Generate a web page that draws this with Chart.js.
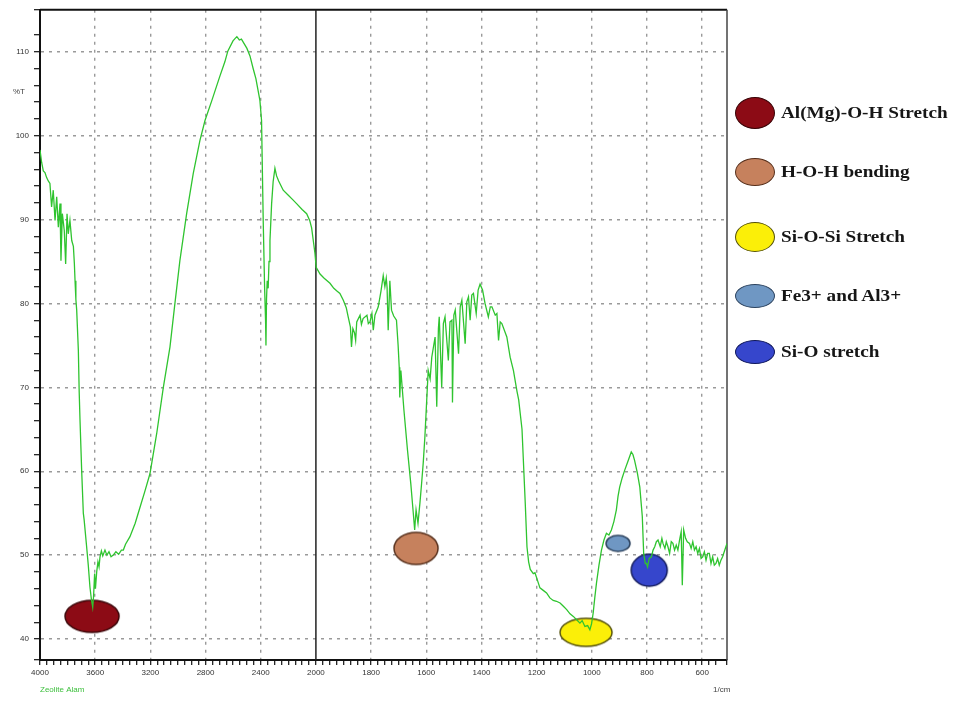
<!DOCTYPE html>
<html>
<head>
<meta charset="utf-8">
<title>FTIR Zeolite Alam</title>
<script src="https://cdn.jsdelivr.net/npm/chart.js@4.4.1/dist/chart.umd.min.js"></script>
<style>
  body { margin: 0; background: #fff; }
  #wrap { position: relative; width: 955px; height: 702px; }
  #legend { position: absolute; left: 0; top: 0; font-family: 'Liberation Serif', 'Times New Roman', serif; font-weight: bold; font-size: 17px; color: #161616; }
  .item { position: absolute; display: flex; align-items: center; white-space: nowrap; transform: translateY(-50%); }
  .dot { display: inline-block; border-radius: 50%; box-sizing: border-box; border: 1.5px solid; }
  .txt { display: inline-block; transform: scaleX(1.13); transform-origin: left center; margin-left: 6px; }
</style>
</head>
<body>
<div id="wrap">
  <canvas id="ftir"></canvas>
  <div id="legend"></div>
</div>
<script>
// spectrum, wavenumber (1/cm) and %T
const wnHigh = [4000, 3988, 3976, 3964, 3952, 3940, 3928, 3916, 3904, 3891,
  3879, 3867, 3855, 3848, 3838, 3824, 3814, 3804, 3795, 3783,
  3770, 3758, 3751, 3746, 3740, 3734, 3722, 3716, 3710, 3698,
  3686, 3680, 3662, 3650, 3638, 3628, 3618, 3612, 3604, 3598,
  3589, 3580, 3572, 3565, 3555, 3545, 3529, 3515, 3500, 3485,
  3469, 3450, 3430, 3410, 3396, 3380, 3348, 3310, 3275, 3240,
  3203, 3154, 3106, 3058, 3022, 2986, 2937, 2889, 2841, 2804,
  2754, 2696, 2660, 2638, 2601, 2585, 2573, 2555, 2540, 2529,
  2500, 2478, 2455, 2435, 2406, 2394, 2382, 2372, 2365, 2362,
  2358, 2353, 2346, 2340, 2333, 2321, 2310, 2297, 2285, 2270,
  2237, 2200, 2170, 2140, 2100, 2067, 2045, 2031, 2015, 2007];
const tHigh = [98.3, 96.8, 95.8, 95.6, 95.0, 94.6, 94.3, 91.5, 93.5, 89.9,
  92.7, 89.1, 91.9, 85.1, 90.7, 88.7, 84.7, 90.7, 88.3, 89.9,
  87.5, 86.8, 84.8, 82.7, 80.5, 79.2, 74.4, 69.5, 66.1, 60.1,
  55.0, 54.2, 51.0, 48.8, 46.2, 44.8, 43.8, 45.0, 47.8, 46.0,
  48.0, 49.2, 48.6, 49.8, 50.5, 49.9, 50.6, 50.0, 50.4, 49.8,
  50.0, 50.4, 50.1, 50.6, 50.6, 51.3, 52.2, 53.8, 55.7, 57.6,
  59.7, 64.5, 70.0, 74.8, 80.0, 85.1, 90.7, 95.5, 99.4, 101.8,
  104.2, 107.1, 108.8, 110.1, 111.3, 111.6, 111.8, 111.4, 111.5, 111.2,
  110.4, 109.5, 108.0, 106.8, 104.2, 101.8, 89.9, 82.0, 78.0, 75.0,
  80.5, 82.7, 81.8, 85.0, 87.5, 91.9, 94.5, 96.1, 95.2, 94.6,
  93.5, 92.9, 92.4, 91.9, 91.2, 90.7, 89.9, 89.0, 87.0, 86.0];

const wnMid = [1999, 1985, 1970, 1949, 1935, 1925, 1913, 1901, 1890, 1883,
  1875, 1871, 1866, 1860, 1856, 1852, 1840, 1835, 1829, 1815,
  1810, 1804, 1797, 1792, 1786, 1774, 1764, 1756, 1750, 1745,
  1742, 1738, 1732, 1726, 1718, 1708, 1702, 1698, 1696, 1692,
  1681, 1668, 1656, 1647, 1642, 1637, 1630, 1623, 1617, 1611,
  1605, 1593, 1586, 1580, 1568, 1562, 1556, 1553, 1544, 1538,
  1532, 1520, 1514, 1507, 1505, 1500, 1495, 1483, 1477, 1471,
  1459, 1453, 1447, 1441, 1435, 1429, 1419, 1412, 1405, 1396,
  1387, 1375, 1368, 1362, 1350, 1344, 1338, 1332, 1326, 1308,
  1296, 1284, 1271, 1265, 1253, 1247, 1241, 1235, 1229, 1223,
  1212, 1206];
const tMid = [84.3, 83.5, 83.0, 82.4, 81.8, 81.5, 81.2, 80.4, 79.5, 78.4,
  77.2, 74.8, 77.0, 76.5, 75.6, 77.8, 78.6, 77.5, 78.2, 78.6,
  77.6, 77.8, 78.8, 76.8, 78.6, 79.6, 81.5, 83.3, 82.0, 83.0,
  81.9, 76.8, 82.7, 79.2, 78.5, 78.0, 75.0, 72.4, 68.8, 72.0,
  67.3, 62.5, 58.5, 55.0, 53.0, 55.4, 53.8, 56.2, 58.5, 61.0,
  64.1, 72.0, 71.0, 73.6, 76.0, 67.7, 77.0, 78.4, 70.0, 77.6,
  78.4, 73.2, 77.8, 78.0, 68.2, 78.6, 79.2, 74.0, 79.6, 80.4,
  75.2, 80.2, 80.8, 78.0, 81.0, 81.2, 78.8, 81.6, 82.3, 81.6,
  80.0, 78.4, 79.6, 79.6, 78.6, 78.8, 75.6, 77.8, 77.6, 76.0,
  73.6, 72.0, 69.5, 68.5, 65.0, 60.5, 56.0, 51.0, 49.2, 48.3,
  47.8, 47.9];

const wnLow = [1199, 1188, 1176, 1164, 1152, 1140, 1128, 1115, 1103, 1091,
  1079, 1067, 1055, 1043, 1035, 1025, 1015, 1007, 1001, 995,
  989, 983, 974, 965, 956, 947, 938, 929, 920, 911,
  905, 899, 890, 881, 869, 857, 851, 845, 835, 826,
  817, 812, 806, 802, 798, 792, 784, 778, 772, 766,
  760, 752, 746, 742, 735, 730, 724, 718, 712, 706,
  700, 694, 688, 682, 676, 672, 667, 660, 654, 646,
  640, 634, 628, 622, 616, 610, 604, 598, 592, 586,
  580, 574, 568, 562, 556, 550, 544, 538, 532, 526,
  520, 514, 510];
const tLow = [47.2, 46.1, 45.8, 45.5, 44.9, 44.6, 44.5, 44.3, 43.9, 43.5,
  43.0, 42.7, 42.3, 41.9, 42.2, 41.5, 41.6, 41.1, 41.8, 43.1,
  45.0, 46.7, 48.8, 50.6, 51.8, 52.6, 52.4, 53.0, 54.0, 55.4,
  57.0, 58.1, 59.2, 60.1, 61.2, 62.3, 62.0, 61.3, 59.8, 58.1,
  54.6, 50.2, 49.0, 49.0, 48.6, 49.6, 49.8, 50.6, 51.0, 51.6,
  51.8, 51.0, 52.0, 51.4, 50.8, 51.6, 51.0, 50.2, 51.6, 51.4,
  50.6, 51.2, 50.6, 51.8, 52.8, 46.4, 53.0, 52.0, 51.6, 51.4,
  50.8, 51.6, 50.6, 51.0, 50.2, 50.8, 49.6, 49.8, 50.4, 49.4,
  50.2, 50.2, 49.0, 49.8, 48.8, 49.0, 49.6, 48.8, 49.4, 49.8,
  50.4, 51.0, 51.4];

// marked bands
const peakLabels = ['Al(Mg)-O-H Stretch', 'H-O-H bending', 'Si-O-Si Stretch', 'Fe3+ and Al3+', 'Si-O stretch'];
const peakWn = [3623, 1637, 1021, 905, 792];
const peakT = [42.7, 50.8, 40.8, 51.4, 48.2];

const xTickLabels = [4000, 3600, 3200, 2800, 2400, 2000, 1800, 1600, 1400, 1200, 1000, 800, 600];
const yTickLabels = [40, 50, 60, 70, 80, 90, 100, 110];

// styles
const peakFill = ['#8c0b15', '#c6815d', '#fbef08', '#6f97c3', '#3646cc'];
const peakEdge = ['#3a0508', '#57301c', '#55520c', '#2f4560', '#121a5c'];
const plotSize = [[54, 32], [44, 32], [52, 28], [24, 16], [36, 32]];
const legendSize = [[40, 32], [40, 28], [40, 30], [40, 24], [40, 24]];
const legendY = [113, 172, 237, 296, 352];

const breakAt = 2000; // scale doubles below 2000 1/cm
let chart;

function toAxis(w) {
  return w > breakAt ? breakAt + (w - breakAt) / 2 : w;
}

function toWn(u) {
  return u > breakAt ? breakAt + (u - breakAt) * 2 : u;
}

function makeEllipse(w, h, fill, edge) {
  const c = document.createElement('canvas');
  c.width = w + 4;
  c.height = h + 4;
  const g = c.getContext('2d');
  g.beginPath();
  g.ellipse(c.width / 2, c.height / 2, w / 2, h / 2, 0, 0, Math.PI * 2);
  g.fillStyle = fill;
  g.fill();
  g.lineWidth = 1.5;
  g.strokeStyle = edge;
  g.stroke();
  return c;
}

function buildSpectrum() {
  const wn = wnHigh.concat(wnMid, wnLow);
  const t = tHigh.concat(tMid, tLow);
  return wn.map((w, i) => ({ x: toAxis(w), y: t[i] }));
}

function renderLegend() {
  const box = document.getElementById('legend');
  box.innerHTML = '';
  peakLabels.forEach((label, i) => {
    const item = document.createElement('div');
    item.className = 'item';
    item.style.left = '735px';
    item.style.top = legendY[i] + 'px';
    item.innerHTML = `
      <span class="dot" style="width:${legendSize[i][0]}px;height:${legendSize[i][1]}px;background:${peakFill[i]};border-color:${peakEdge[i]}"></span>
      <span class="txt">${label}</span>`;
    box.appendChild(item);
  });
}

const frame = {
  id: 'frame',
  beforeDatasetsDraw(c) {
    const { ctx, chartArea: a, scales: { x } } = c;
    ctx.save();
    ctx.strokeStyle = '#111';
    ctx.lineWidth = 2;
    ctx.beginPath();
    ctx.moveTo(a.left, a.top);
    ctx.lineTo(a.right, a.top);
    ctx.stroke();
    ctx.strokeStyle = '#444';
    ctx.lineWidth = 1.5;
    ctx.beginPath();
    ctx.moveTo(a.right, a.top);
    ctx.lineTo(a.right, a.bottom);
    ctx.stroke();
    const bx = x.getPixelForValue(breakAt);
    ctx.strokeStyle = '#222';
    ctx.beginPath();
    ctx.moveTo(bx, a.top);
    ctx.lineTo(bx, a.bottom);
    ctx.stroke();
    ctx.restore();
  },
  afterDraw(c) {
    const { ctx, chartArea: a } = c;
    ctx.save();
    ctx.font = '8px "Liberation Sans", Arial, sans-serif';
    ctx.textBaseline = 'middle';
    ctx.fillStyle = '#444';
    ctx.fillText('%T', 13, 92);
    ctx.fillText('1/cm', a.right - 14, 690);
    ctx.fillStyle = '#3cbf3c';
    ctx.fillText('Zeolite Alam', a.left, 690);
    ctx.restore();
  }
};

function renderChart() {
  const ctx = document.getElementById('ftir');
  chart = new Chart(ctx, {
    type: 'scatter',
    data: {
      datasets: [{
        label: 'Zeolite Alam',
        data: buildSpectrum(),
        showLine: true,
        borderColor: '#2fc42f',
        borderWidth: 1.3,
        pointRadius: 0,
        order: 1
      }, {
        label: 'bands',
        data: peakWn.map((w, i) => ({ x: toAxis(w), y: peakT[i] })),
        pointStyle: peakLabels.map((l, i) => makeEllipse(plotSize[i][0], plotSize[i][1], peakFill[i], peakEdge[i])),
        pointRadius: 3,
        order: 2
      }]
    },
    options: {
      responsive: true,
      maintainAspectRatio: false,
      animation: false,
      events: [],
      layout: { padding: { top: 8, right: 228, left: 0, bottom: 0 } },
      plugins: { legend: { display: false }, tooltip: { enabled: false } },
      scales: {
        x: {
          type: 'linear',
          reverse: true,
          min: 510,
          max: 3000,
          afterFit: s => { s.height = 42; },
          ticks: {
            stepSize: 25,
            autoSkip: false,
            maxRotation: 0,
            padding: 3,
            color: '#333',
            font: { family: '"Liberation Sans", Arial, sans-serif', size: 8 },
            callback: v => xTickLabels.includes(toWn(v)) ? String(toWn(v)) : ''
          },
          grid: {
            color: c => {
              const w = toWn(c.tick.value);
              return xTickLabels.includes(w) && w !== 4000 && w !== breakAt ? '#9a9a9a' : 'transparent';
            },
            lineWidth: 1.4,
            tickColor: '#111',
            tickLength: 5,
            tickWidth: 1.2
          },
          border: { color: '#111', width: 2, dash: [3, 5] }
        },
        y: {
          min: 37.5,
          max: 115,
          afterFit: s => { s.width = 40; },
          ticks: {
            stepSize: 2,
            autoSkip: false,
            padding: 5,
            color: '#333',
            font: { family: '"Liberation Sans", Arial, sans-serif', size: 8 },
            callback: v => yTickLabels.includes(v) ? String(v) : ''
          },
          grid: {
            color: c => yTickLabels.includes(c.tick.value) ? '#9a9a9a' : 'transparent',
            lineWidth: 1.4,
            tickColor: '#111',
            tickLength: 6,
            tickWidth: 1.2
          },
          border: { color: '#111', width: 2, dash: [3, 5] }
        }
      }
    },
    plugins: [frame]
  });
}

renderLegend();
renderChart();
</script>
</body>
</html>
